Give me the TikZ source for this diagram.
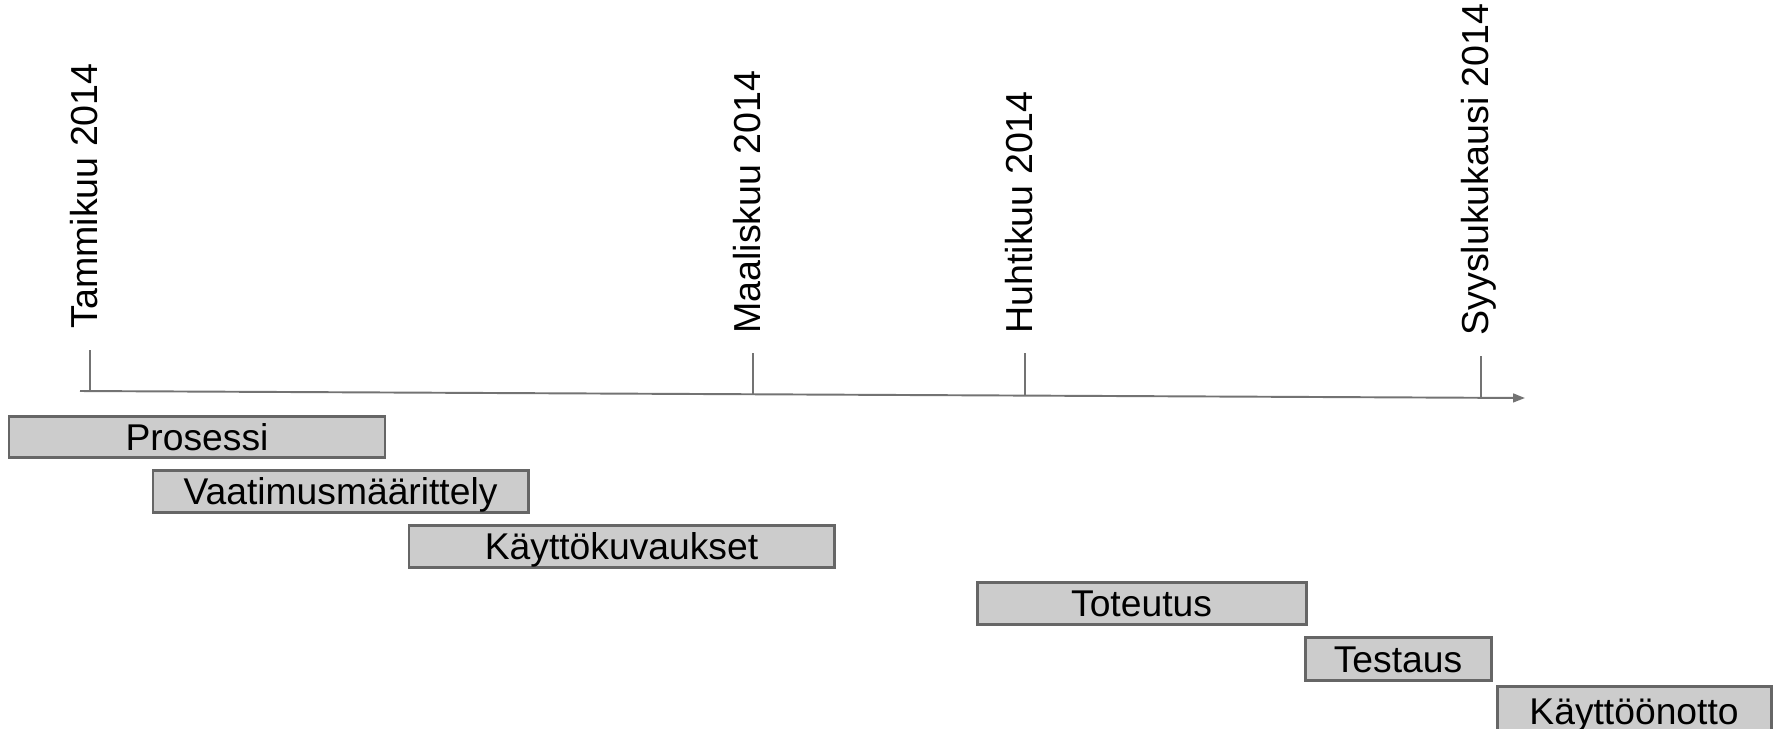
\documentclass[tikz,border=0pt]{standalone}
\usepackage{fontspec}
\setmainfont{Liberation Sans}
\usetikzlibrary{arrows.meta}

\tikzset{
  barbox/.style={draw=black!60, fill=black!20, line width=1.7pt},
  bartext/.style={anchor=base, inner sep=0pt, font=\fontsize{21.2}{25}\selectfont},
  monthlabel/.style={rotate=90, anchor=base west, inner sep=0pt, font=\fontsize{21.4}{25}\selectfont},
  axisline/.style={draw=black!55, line width=1.1pt, -{Triangle[length=6.8pt,width=5pt]}},
  tickline/.style={draw=black!55, line width=0.9pt}
}

\begin{document}
\begin{tikzpicture}[x=0.02cm, y=-0.02cm]
 \useasboundingbox (0,0) rectangle (1777,728);

 % time axis
 \coordinate (a0) at (80,391);
 \coordinate (a1) at (1525,398);
 \path[axisline] (a0) -- (a1);

 % months
 \foreach \x/\ytop/\ybot/\name/\txt in { 90/350/329/tam/Tammikuu 2014, 753/353/334/maa/Maaliskuu 2014,
                                   1025/353/334/huh/Huhtikuu 2014, 1481/356/336/syy/Syyslukukausi 2014 } {
         \coordinate (t\name) at (\x, {391+7*(\x-80)/1445});
         \coordinate (k\name) at (\x, \ytop);
         \path[tickline] (t\name) -- (k\name);
         \node[monthlabel] (\name) at (\x+7, \ybot) {\txt};
 }

 % tasks
 \foreach \xa/\ya/\xb/\yb/\name/\txt in { 9/416/385/457/pro/Prosessi, 153/470/528/512/vaa/Vaatimusmäärittely,
                                          409/525/834/567/kay/Käyttökuvaukset, 977/582/1306/624/tot/Toteutus,
                                          1305/637/1491/680/tes/Testaus, 1497/686/1771/735/kot/Käyttöönotto } {
         \draw[barbox] (\xa,\ya) rectangle (\xb,\yb);
         \node[bartext] (\name) at ({(\xa+\xb)/2}, {(\ya+\yb)/2+13.5}) {\txt};
 }

\end{tikzpicture}
\end{document}
